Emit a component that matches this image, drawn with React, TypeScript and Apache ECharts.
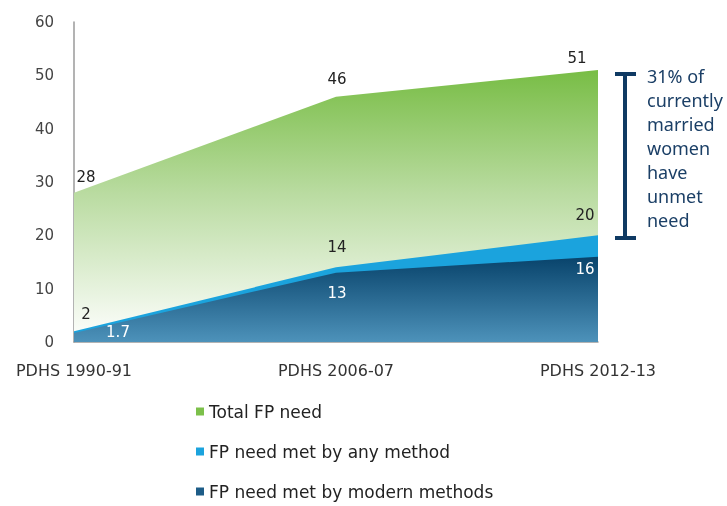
import React, { useEffect, useRef } from "react";
import * as echarts from "echarts";

const categories = ["PDHS 1990-91", "PDHS 2006-07", "PDHS 2012-13"];
const totalNeed = [28, 46, 51];
const anyMethod = [2, 14, 20];
const modernMethods = [1.7, 13, 16];
const seriesNames = ["Total FP need", "FP need met by any method", "FP need met by modern methods"];
const yTicks = { min: 0, max: 60, interval: 10 };
const noteLines = ["31% of", "currently", "married", "women", "have", "unmet", "need"];

const totalOffsets = [[12, -3], [1, -5], [-21, 1]];
const anyOffsets = [[12, -5], [1, -8], [-13, -8]];
const modernOffsets = [[44, -13], [1, 8], [-13, 0]];

const FONT = "DejaVu Sans";

function withLabels(values: number[], offsets: number[][], position: string, color: string) {
  return values.map((v, i) => ({
    value: v,
    label: { show: true, position, offset: offsets[i], color, fontFamily: FONT, fontSize: 15 },
  }));
}

export default function App() {
  const ref = useRef<HTMLDivElement>(null);
  useEffect(() => {
    if (!ref.current) return;
    const chart = echarts.init(ref.current, null, { renderer: "svg" });
    const green = new echarts.graphic.LinearGradient(0, 0, 0, 1, [
      { offset: 0, color: "#78bd45" },
      { offset: 0.45, color: "#b9dba0" },
      { offset: 1, color: "#ffffff" },
    ]);
    const darkBlue = new echarts.graphic.LinearGradient(0, 0, 0, 1, [
      { offset: 0, color: "#08436b" },
      { offset: 1, color: "#4d92ba" },
    ]);
    const lightBlue = "#1ba3dd";
    const base = {
      type: "line",
      symbol: "circle",
      symbolSize: 0.01,
      showSymbol: true,
      lineStyle: { width: 0 },
      emphasis: { disabled: true },
    };
    chart.setOption({
      animation: false,
      grid: { left: 74, right: 129, top: 22, bottom: 164 },
      legend: {
        orient: "vertical",
        left: 196,
        top: 403,
        padding: 0,
        height: 103,
        itemWidth: 8,
        itemHeight: 8,
        itemGap: 23,
        icon: "rect",
        textStyle: { fontFamily: FONT, fontSize: 17, color: "#222" },
        data: [
          { name: seriesNames[0], itemStyle: { color: "#7cc04a" } },
          { name: seriesNames[1], itemStyle: { color: lightBlue } },
          { name: seriesNames[2], itemStyle: { color: "#1d5c87" } },
        ],
      },
      xAxis: {
        type: "category",
        data: categories,
        boundaryGap: false,
        axisLine: { show: true, lineStyle: { color: "#9a9a9a", width: 1.5 } },
        axisTick: { show: false },
        axisLabel: { fontFamily: FONT, fontSize: 16, color: "#333", margin: 20 },
      },
      yAxis: {
        type: "value",
        min: yTicks.min,
        max: yTicks.max,
        interval: yTicks.interval,
        splitLine: { show: false },
        axisLine: { show: true, lineStyle: { color: "#9a9a9a", width: 1.5 } },
        axisTick: { show: false },
        axisLabel: { fontFamily: FONT, fontSize: 15, color: "#444", margin: 20 },
      },
      series: [
        {
          ...base,
          name: seriesNames[0],
          itemStyle: { color: "#7cc04a" },
          areaStyle: { color: green, opacity: 1 },
          data: withLabels(totalNeed, totalOffsets, "top", "#222"),
          z: 2,
        },
        {
          ...base,
          name: seriesNames[1],
          itemStyle: { color: lightBlue },
          areaStyle: { color: lightBlue, opacity: 1 },
          data: withLabels(anyMethod, anyOffsets, "top", "#222"),
          z: 3,
        },
        {
          ...base,
          name: seriesNames[2],
          itemStyle: { color: "#1d5c87" },
          areaStyle: { color: darkBlue, opacity: 1 },
          data: withLabels(modernMethods, modernOffsets, "bottom", "#ffffff"),
          z: 4,
        },
      ],
      graphic: [
        { type: "rect", shape: { x: 623, y: 72, width: 4, height: 168 }, style: { fill: "#0f3a63" } },
        { type: "rect", shape: { x: 615, y: 72, width: 21, height: 4 }, style: { fill: "#0f3a63" } },
        { type: "rect", shape: { x: 615, y: 236, width: 21, height: 4 }, style: { fill: "#0f3a63" } },
        {
          type: "text",
          x: 647,
          y: 64,
          style: {
            text: noteLines.join("\n"),
            fill: "#1b3f66",
            font: "18px 'Noto Sans'",
            lineHeight: 24,
          },
        },
      ],
    });
    return () => chart.dispose();
  }, []);
  return <div ref={ref} style={{ position: "fixed", left: 0, top: 0, width: 727, height: 506 }} />;
}
